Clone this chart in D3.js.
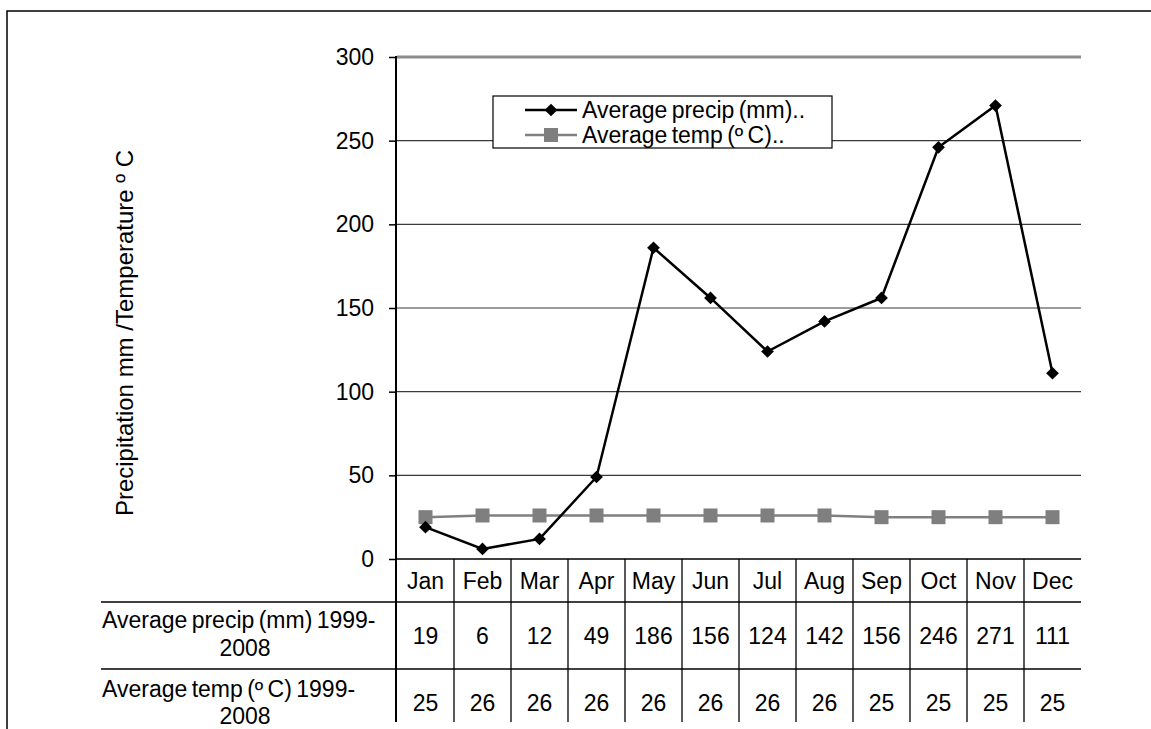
<!DOCTYPE html>
<html>
<head>
<meta charset="utf-8">
<script src="https://cdn.jsdelivr.net/npm/d3@7/dist/d3.min.js"></script>
<style>
  html, body { margin: 0; padding: 0; background: #fff; }
  svg { display: block; font-family: "Liberation Sans", Arial, sans-serif; }
</style>
</head>
<body>
<svg id="chart" width="1151" height="729"></svg>
<script>
const months = ["Jan","Feb","Mar","Apr","May","Jun","Jul","Aug","Sep","Oct","Nov","Dec"];
const precip = [19, 6, 12, 49, 186, 156, 124, 142, 156, 246, 271, 111];
const temp = [25, 26, 26, 26, 26, 26, 26, 26, 25, 25, 25, 25];
const yTicks = [0, 50, 100, 150, 200, 250, 300];
const seriesNames = ["Average precip (mm)..", "Average temp (º C).."];
const rowLabels = [["Average precip (mm) 1999-", "2008"], ["Average temp (º C) 1999-", "2008"]];
const yTitle = "Precipitation mm /Temperature º C";

(function () {
const svg = d3.select("#chart");
const FS = 23;

// outer frame
svg.append("rect").attr("x", 7).attr("y", 11).attr("width", 1200).attr("height", 800)
  .attr("fill", "none").attr("stroke", "#000").attr("stroke-width", 1.5);

const pL = 397, pR = 1081, pT = 57, pB = 559;
const x = d3.scaleBand().domain(months).range([pL, pR]);
const y = d3.scaleLinear().domain([0, 300]).range([pB, pT]);

// gridlines
svg.append("g").selectAll("line").data(yTicks.filter(d => d > 0 && d < 300)).join("line")
  .attr("x1", pL).attr("x2", pR).attr("y1", d => y(d)).attr("y2", d => y(d))
  .attr("stroke", "#3a3a3a").attr("stroke-width", 1.2);
svg.append("line").attr("x1", pL).attr("x2", pR).attr("y1", y(300)).attr("y2", y(300))
  .attr("stroke", "#8c8c8c").attr("stroke-width", 3);

// y axis
const yAxis = svg.append("g").attr("transform", `translate(${pL},0)`)
  .call(d3.axisLeft(y).tickValues(yTicks).tickSize(8).tickPadding(15).tickSizeOuter(0));
yAxis.select(".domain").remove();
yAxis.selectAll(".tick line").attr("stroke", "#000").attr("stroke-width", 1.5);
yAxis.selectAll(".tick text").attr("font-size", FS).attr("fill", "#000")
  .attr("font-family", "Liberation Sans, Arial, sans-serif");
svg.append("line").attr("x1", pL - 1).attr("x2", pL - 1).attr("y1", pT - 1).attr("y2", 722)
  .attr("stroke", "#000").attr("stroke-width", 2);

// y title
svg.append("text").attr("transform", `translate(133,333) rotate(-90)`)
  .attr("text-anchor", "middle").attr("font-size", 24).attr("fill", "#000").text(yTitle);

// table
const rowLines = [559, 602, 669];
svg.append("g").selectAll("line").data(rowLines).join("line")
  .attr("x1", (d, i) => i === 0 ? pL - 2 : 101).attr("x2", pR)
  .attr("y1", d => d).attr("y2", d => d)
  .attr("stroke", "#000").attr("stroke-width", 1.4);
svg.append("g").selectAll("line").data(months.slice(1)).join("line")
  .attr("x1", d => x(d)).attr("x2", d => x(d)).attr("y1", 559).attr("y2", 722)
  .attr("stroke", "#000").attr("stroke-width", 1.3);

const cx = d => x(d) + x.bandwidth() / 2;
svg.append("g").selectAll("text").data(months).join("text")
  .attr("x", d => cx(d)).attr("y", 589).attr("text-anchor", "middle")
  .attr("font-size", FS).attr("fill", "#000").text(d => d);
svg.append("g").selectAll("text").data(precip).join("text")
  .attr("x", (d, i) => cx(months[i])).attr("y", 644).attr("text-anchor", "middle")
  .attr("font-size", FS).attr("fill", "#000").text(d => d);
svg.append("g").selectAll("text").data(temp).join("text")
  .attr("x", (d, i) => cx(months[i])).attr("y", 711).attr("text-anchor", "middle")
  .attr("font-size", FS).attr("fill", "#000").text(d => d);

const labelBase = [[628, 656], [697, 724]];
rowLabels.forEach((lines, r) => {
  svg.append("text").attr("x", 102).attr("y", labelBase[r][0]).attr("font-size", FS)
    .attr("fill", "#000").attr("word-spacing", -2).text(lines[0]);
  svg.append("text").attr("x", 245).attr("y", labelBase[r][1]).attr("font-size", FS)
    .attr("text-anchor", "middle").attr("fill", "#000").text(lines[1]);
});

// lines
const line = d3.line().x((d, i) => cx(months[i])).y(d => y(d));
svg.append("path").datum(temp).attr("d", line).attr("fill", "none")
  .attr("stroke", "#808080").attr("stroke-width", 2.5);
svg.append("g").selectAll("rect").data(temp).join("rect")
  .attr("x", (d, i) => cx(months[i]) - 7).attr("y", d => y(d) - 7)
  .attr("width", 14).attr("height", 14).attr("fill", "#7f7f7f");
svg.append("path").datum(precip).attr("d", line).attr("fill", "none")
  .attr("stroke", "#000").attr("stroke-width", 2.5);
const diamond = d3.symbol().type(d3.symbolSquare).size(81);
svg.append("g").selectAll("path").data(precip).join("path")
  .attr("d", diamond)
  .attr("transform", (d, i) => `translate(${cx(months[i])},${y(d)}) rotate(45)`)
  .attr("fill", "#000");

// legend
const lg = svg.append("g");
lg.append("rect").attr("x", 493).attr("y", 96).attr("width", 339).attr("height", 52)
  .attr("fill", "#fff").attr("stroke", "#000").attr("stroke-width", 1.2);
const legY = [110, 135];
const colors = ["#000", "#808080"];
seriesNames.forEach((name, i) => {
  lg.append("line").attr("x1", 525).attr("x2", 577).attr("y1", legY[i]).attr("y2", legY[i])
    .attr("stroke", colors[i]).attr("stroke-width", 2.5);
  if (i === 0) {
    lg.append("path").attr("d", diamond)
      .attr("transform", `translate(551,${legY[i]}) rotate(45)`).attr("fill", "#000");
  } else {
    lg.append("rect").attr("x", 551 - 7).attr("y", legY[i] - 7).attr("width", 14).attr("height", 14)
      .attr("fill", "#7f7f7f");
  }
  lg.append("text").attr("x", 582).attr("y", legY[i] + 8).attr("font-size", FS)
    .attr("fill", "#000").attr("word-spacing", -2).text(name);
});
})();
</script>
</body>
</html>
